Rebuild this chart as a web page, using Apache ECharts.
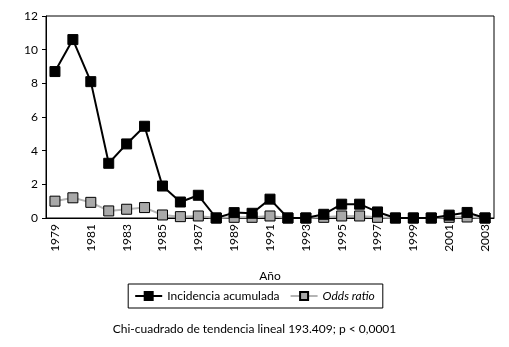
<!DOCTYPE html>
<html>
<head>
<meta charset="utf-8">
<script src="https://cdn.jsdelivr.net/npm/echarts@6/dist/echarts.min.js"></script>
<style>
  html, body { margin: 0; padding: 0; background: #fff; }
  #chart { width: 509px; height: 347px; }
</style>
</head>
<body>
<div id="chart"></div>
<script>
const years = ['1979','1980','1981','1982','1983','1984','1985','1986','1987','1988',
  '1989','1990','1991','1992','1993','1994','1995','1996','1997','1998',
  '1999','2000','2001','2002','2003'];
const incidencia = [8.7, 10.6, 8.1, 3.25, 4.4, 5.45, 1.9, 0.95, 1.35, 0,
  0.32, 0.28, 1.12, 0, 0, 0.22, 0.82, 0.82, 0.36, 0,
  0, 0, 0.17, 0.33, 0];
const oddsRatio = [1.0, 1.2, 0.93, 0.42, 0.52, 0.62, 0.18, 0.08, 0.12, 0,
  0.04, 0.04, 0.12, 0, 0, 0.04, 0.12, 0.12, 0.04, 0,
  0, 0, 0.04, 0.06, 0];
const yTicks = [0, 2, 4, 6, 8, 10, 12];

const FONT = 'Lato';
let chart = echarts.init(document.getElementById('chart'));
let option = {
  animation: false,
  textStyle: { fontFamily: FONT, color: '#000' },
  title: {
    text: 'Chi-cuadrado de tendencia lineal 193.409; p < 0,0001',
    left: 'center',
    top: 318,
    textStyle: { fontFamily: FONT, fontSize: 12, fontWeight: 'normal', color: '#000' }
  },
  grid: {
    left: 46,
    right: 15,
    top: 16,
    bottom: 129,
    show: true,
    borderColor: '#000',
    borderWidth: 1
  },
  legend: {
    top: 284,
    left: 'center',
    itemWidth: 27,
    itemHeight: 10,
    itemGap: 10,
    padding: [6, 8, 6, 6],
    borderColor: '#000',
    borderWidth: 1,
    data: ['Incidencia acumulada', 'Odds ratio'],
    formatter: function (name) {
      return name === 'Odds ratio' ? '{i|' + name + '}' : name;
    },
    textStyle: {
      fontFamily: FONT,
      fontSize: 12,
      color: '#000',
      rich: { i: { fontStyle: 'italic', fontFamily: FONT, fontSize: 12 } }
    }
  },
  xAxis: {
    type: 'category',
    data: years,
    boundaryGap: true,
    name: 'Año',
    nameLocation: 'middle',
    nameGap: 52,
    nameTextStyle: { fontFamily: FONT, fontSize: 12, color: '#000' },
    axisLine: { lineStyle: { color: '#000', width: 1 } },
    axisTick: { interval: 0, length: 5, lineStyle: { color: '#000' } },
    axisLabel: { interval: 1, rotate: 90, fontSize: 12, color: '#000', margin: 6 }
  },
  yAxis: {
    type: 'value',
    min: yTicks[0],
    max: yTicks[yTicks.length - 1],
    interval: 2,
    axisLine: { show: true, lineStyle: { color: '#000', width: 1 } },
    axisTick: { show: true, length: 4, lineStyle: { color: '#000' } },
    axisLabel: { fontSize: 12, color: '#000', margin: 8 },
    splitLine: { show: false }
  },
  series: [
    {
      name: 'Odds ratio',
      type: 'line',
      data: oddsRatio,
      symbol: 'rect',
      symbolSize: 10,
      lineStyle: { color: '#b4b4b4', width: 2 },
      itemStyle: { color: '#a9a9a9', borderColor: '#000', borderWidth: 1 },
      z: 2
    },
    {
      name: 'Incidencia acumulada',
      type: 'line',
      data: incidencia,
      symbol: 'rect',
      symbolSize: 10,
      lineStyle: { color: '#000', width: 2 },
      itemStyle: { color: '#000', borderColor: '#000', borderWidth: 1 },
      z: 3
    }
  ]
};
chart.setOption(option);
</script>
</body>
</html>
